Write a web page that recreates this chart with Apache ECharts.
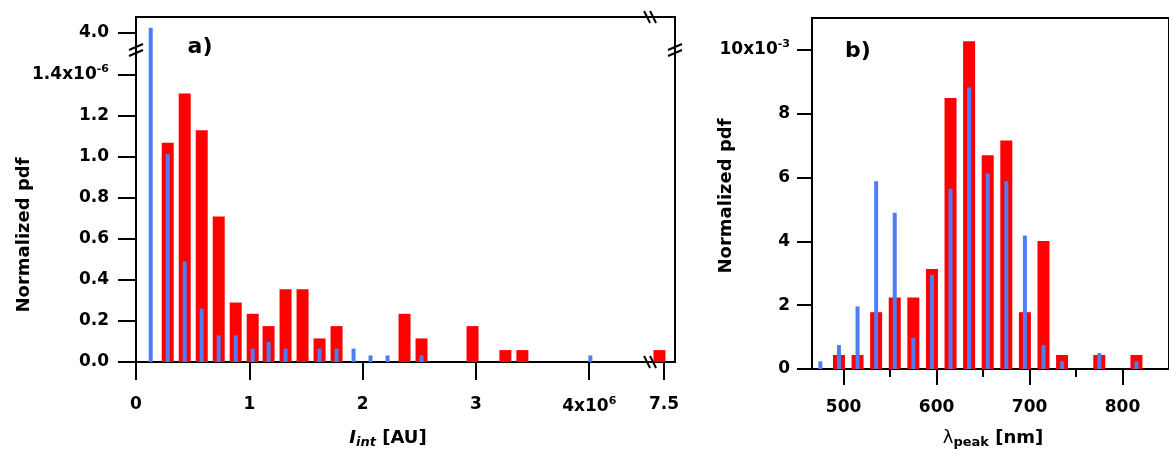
<!DOCTYPE html>
<html><head><meta charset="utf-8">
<script src="https://cdn.jsdelivr.net/npm/echarts@6/dist/echarts.min.js"></script>
<style>html,body{margin:0;padding:0;background:#fff}#c{width:1169px;height:450px}</style>
</head><body><div id="c"></div>
<script>
// ---------- Panel a: I_int histogram (x in 1e6 AU, y in 1e-6) ----------
const aBinCenters = [0.13,0.28,0.43,0.58,0.73,0.88,1.03,1.17,1.32,1.47,1.62,1.77,1.92,2.07,2.22,2.37,2.52,2.67,2.82,2.97,3.12,3.26,3.41,3.56,3.71,3.86,4.01,7.46];
const aRed  = [0,1.07,1.31,1.13,0.71,0.29,0.235,0.175,0.355,0.355,0.115,0.175,0,0,0,0.235,0.115,0,0,0.175,0,0.058,0.058,0,0,0,0,0.058];
const aBlue = [4.025,1.015,0.49,0.26,0.13,0.13,0.065,0.098,0.065,0,0.065,0.065,0.065,0.032,0.032,0,0.032,0,0,0,0,0,0,0,0,0,0.032,0];
const aXTicks = [0,1,2,3,4,7.5];
const aXTickLabels = ['0','1','2','3','{m|4x10}{s|6}','7.5'];
const aYTicks = [0,0.2,0.4,0.6,0.8,1.0,1.2,1.4,4.0];
const aYTickLabels = ['0.0','0.2','0.4','0.6','0.8','1.0','1.2','{m|1.4x10}{s|-6}','4.0'];
const aXBreak = [4.537, 7.377];   // axis break (cut range)
const aYBreak = [1.522, 3.917];
const aXMax = 4.757, aYMax = 1.683; // display extents

// ---------- Panel b: lambda_peak histogram (nm, y in 1e-3) ----------
const bBinCenters = [475,495,515,535,555,575,595,615,635,655,675,695,715,735,755,775,795,815];
const bRed  = [0,0.44,0.44,1.78,2.24,2.24,3.13,8.49,10.27,6.70,7.16,1.78,4.01,0.44,0,0.44,0,0.44];
const bBlue = [0.24,0.75,1.96,5.88,4.90,0.98,2.95,5.65,8.82,6.13,5.88,4.18,0.75,0.24,0,0.50,0,0.24];
const bXTicks = [500,600,700,800];
const bXMinorTicks = [550,650,750];
const bYTicks = [0,2,4,6,8,10];
const bYTickLabels = ['0','2','4','6','8','{m|10x10}{s|-3}'];

const RED = '#ff0000', BLUE = '#4f7df5';
const FONT = 'DejaVu Sans';

function axd(x){ return x <= aXBreak[0] ? x : aXBreak[0] + (x - aXBreak[1]); }
function ayd(y){ return y <= aYBreak[0] ? y : aYBreak[0] + (y - aYBreak[1]); }
function lookup(v, vals, labels){
  let bi = 0, bd = Infinity;
  vals.forEach((t,i)=>{ const d = Math.abs(t - v); if (d < bd){ bd = d; bi = i; } });
  return labels[bi];
}
const rich = {
  m: {fontFamily: FONT, fontWeight: 'bold', fontSize: 17, color: '#000'},
  s: {fontFamily: FONT, fontWeight: 'bold', fontSize: 11, color: '#000', padding: [0,0,11,0]}
};
const lblBase = {fontFamily: FONT, fontWeight: 'bold', fontSize: 17, color: '#000', rich: rich};
const lineStyle = {color: '#000', width: 2};

const aXDisp = aXTicks.map(axd), aYDisp = aYTicks.map(ayd);

const option = {
  animation: false,
  backgroundColor: '#fff',
  grid: [
    {left: 136, top: 17, width: 539, height: 345, show: true, borderColor: '#000', borderWidth: 2, backgroundColor: 'transparent'},
    {left: 812, top: 18, width: 383, height: 351, show: true, borderColor: '#000', borderWidth: 2, backgroundColor: 'transparent'}
  ],
  xAxis: [
    {gridIndex: 0, type: 'value', position: 'bottom', min: 0, max: aXMax, splitLine: {show: false},
     axisLine: {lineStyle: lineStyle},
     axisTick: {customValues: aXDisp, length: 18, lineStyle: lineStyle},
     axisLabel: Object.assign({customValues: aXDisp, margin: 34,
       formatter: v => lookup(v, aXDisp, aXTickLabels)}, lblBase)},
    {gridIndex: 0, type: 'value', position: 'bottom', min: 0, max: aXMax, show: false},
    {gridIndex: 1, type: 'value', position: 'bottom', min: 466, max: 850, splitLine: {show: false},
     axisLine: {lineStyle: lineStyle},
     axisTick: {customValues: bXTicks, length: 16, lineStyle: lineStyle},
     axisLabel: Object.assign({customValues: bXTicks, margin: 30}, lblBase)},
    {gridIndex: 1, type: 'value', position: 'bottom', min: 466, max: 850, show: false},
    {gridIndex: 1, type: 'value', position: 'bottom', offset: 0, min: 466, max: 850, splitLine: {show: false},
     axisLine: {show: false},
     axisTick: {customValues: bXMinorTicks, length: 8, lineStyle: lineStyle},
     axisLabel: {show: false, customValues: bXMinorTicks}}
  ],
  yAxis: [
    {gridIndex: 0, type: 'value', min: 0, max: aYMax, splitLine: {show: false},
     axisLine: {show: true, lineStyle: lineStyle},
     axisTick: {customValues: aYDisp, length: 18, lineStyle: lineStyle},
     axisLabel: Object.assign({customValues: aYDisp, margin: 27,
       formatter: v => lookup(v, aYDisp, aYTickLabels)}, lblBase)},
    {gridIndex: 1, type: 'value', min: 0, max: 11, splitLine: {show: false},
     axisLine: {show: true, lineStyle: lineStyle},
     axisTick: {customValues: bYTicks, length: 15, lineStyle: lineStyle},
     axisLabel: Object.assign({customValues: bYTicks, margin: 22,
       formatter: v => lookup(v, bYTicks, bYTickLabels)}, lblBase)}
  ],
  series: [
    {type: 'bar', xAxisIndex: 0, yAxisIndex: 0, barWidth: 12, itemStyle: {color: RED},
     data: aBinCenters.map((x,i)=>[axd(x), ayd(aRed[i])])},
    {type: 'bar', xAxisIndex: 1, yAxisIndex: 0, barWidth: 4, itemStyle: {color: BLUE},
     data: aBinCenters.map((x,i)=>[axd(x), ayd(aBlue[i])])},
    {type: 'bar', xAxisIndex: 2, yAxisIndex: 1, barWidth: 12, itemStyle: {color: RED},
     data: bBinCenters.map((x,i)=>[x, bRed[i]])},
    {type: 'bar', xAxisIndex: 3, yAxisIndex: 1, barWidth: 4, itemStyle: {color: BLUE},
     data: bBinCenters.map((x,i)=>[x, bBlue[i]])}
  ]
};

const chart = echarts.init(document.getElementById('c'));
chart.setOption(option);

// axis-break marks and text annotations
const px = (x,y)=>chart.convertToPixel({gridIndex: 0}, [x, y]);
const [xb, y0] = px(aXBreak[0], 0);
const [x0, yb] = px(0, aYBreak[0]);
const [xR, yT] = px(aXMax, aYMax);
const ls = {stroke: '#000', lineWidth: 2};
function hmark(cx, cy){ // break mark on a horizontal line
  return [-3, 3].map(d => ({type: 'line', z: 100,
    shape: {x1: cx + d - 3, y1: cy - 6, x2: cx + d + 3, y2: cy + 6}, style: ls}));
}
function vmark(cx, cy){ // break mark on a vertical line
  return [-3, 3].map(d => ({type: 'line', z: 100,
    shape: {x1: cx - 7, y1: cy + d + 3, x2: cx + 7, y2: cy + d - 3}, style: ls}));
}
const T = {fontFamily: FONT, fontWeight: 'bold', fill: '#000'};
const graphics = [].concat(
  hmark(xb, y0), hmark(xb, yT), vmark(x0, yb), vmark(xR, yb),
  [
    {type: 'text', x: 24, y: 235, rotation: Math.PI/2, style: Object.assign({text: 'Normalized pdf', fontSize: 18, align: 'center', verticalAlign: 'middle'}, T)},
    {type: 'text', x: 726, y: 196, rotation: Math.PI/2, style: Object.assign({text: 'Normalized pdf', fontSize: 18, align: 'center', verticalAlign: 'middle'}, T)},
    {type: 'text', x: 200, y: 47, style: Object.assign({text: 'a)', fontSize: 22, align: 'center', verticalAlign: 'middle'}, T)},
    {type: 'text', x: 858, y: 51, style: Object.assign({text: 'b)', fontSize: 22, align: 'center', verticalAlign: 'middle'}, T)},
    {type: 'text', x: 388, y: 438, style: Object.assign({text: '{i|I}{b|int}{n| [AU]}', align: 'center', verticalAlign: 'middle',
      rich: {i: {fontFamily: FONT, fontWeight: 'bold', fontStyle: 'italic', fontSize: 18, fill: '#000'},
             b: {fontFamily: FONT, fontWeight: 'bold', fontStyle: 'italic', fontSize: 13, fill: '#000', padding: [9,0,0,0]},
             n: {fontFamily: FONT, fontWeight: 'bold', fontSize: 18, fill: '#000'}}}, T)},
    {type: 'text', x: 993, y: 438, style: Object.assign({text: '{l|λ}{b|peak}{n| [nm]}', align: 'center', verticalAlign: 'middle',
      rich: {l: {fontFamily: FONT, fontWeight: 'normal', fontSize: 18, fill: '#000'},
             b: {fontFamily: FONT, fontWeight: 'bold', fontSize: 13, fill: '#000', padding: [9,0,0,0]},
             n: {fontFamily: FONT, fontWeight: 'bold', fontSize: 18, fill: '#000'}}}, T)}
  ]
);
chart.setOption({graphic: graphics});
</script>
</body></html>
